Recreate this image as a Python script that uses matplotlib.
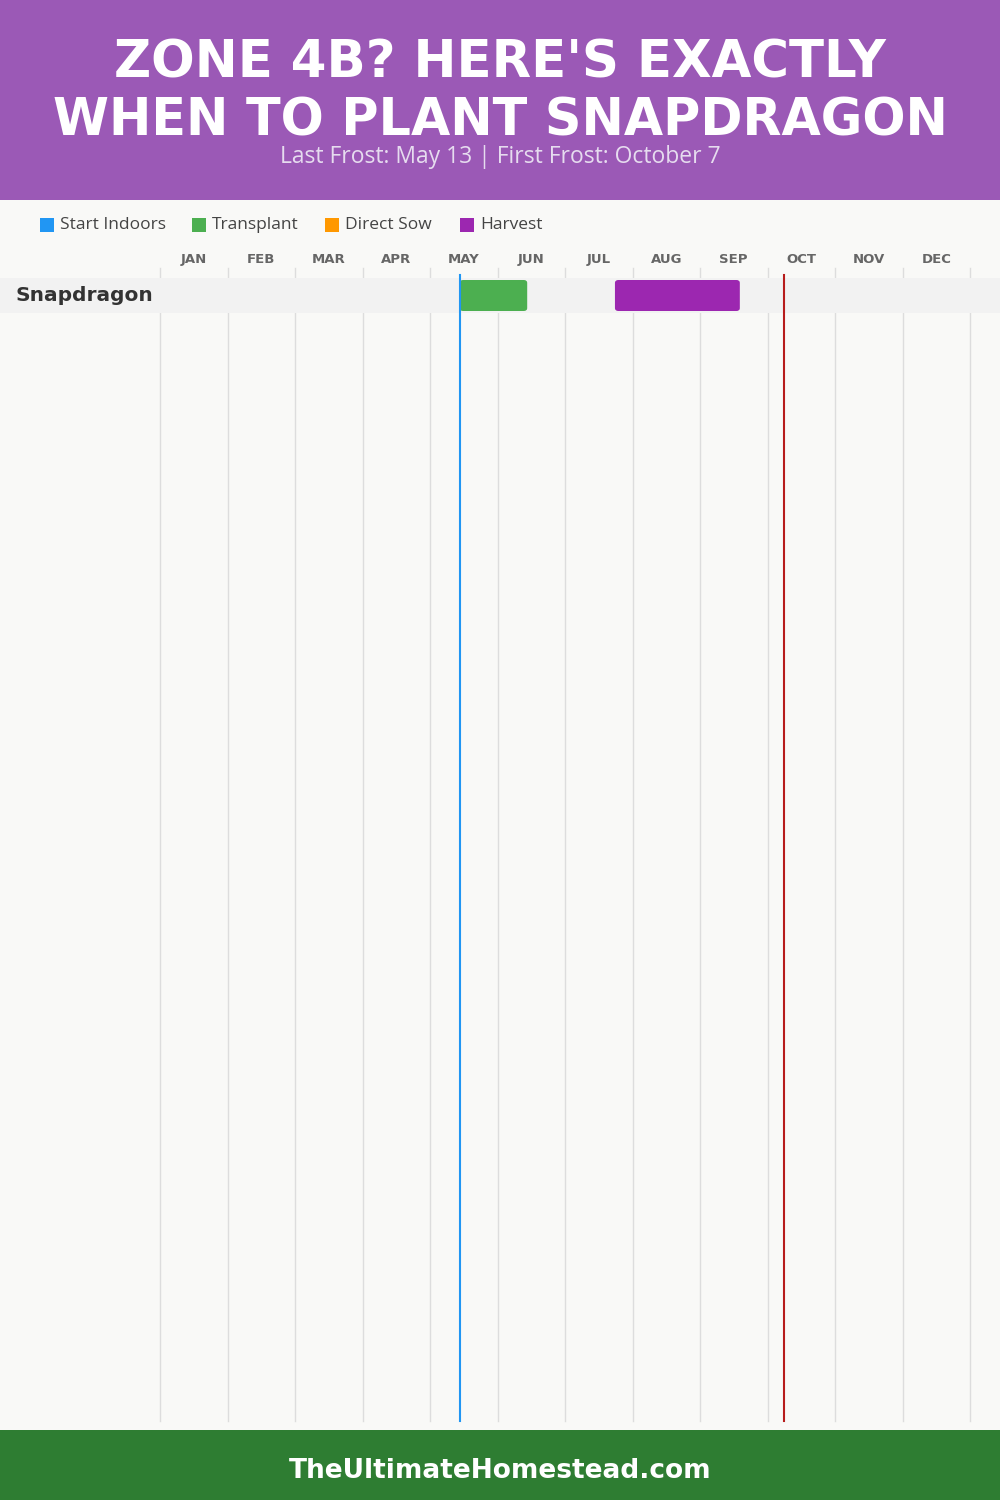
import matplotlib
matplotlib.use("Agg")
import matplotlib.pyplot as plt
from matplotlib.patches import Rectangle, FancyBboxPatch

# ---- data ----
title_lines = ["ZONE 4B? HERE'S EXACTLY", "WHEN TO PLANT SNAPDRAGON"]
subtitle = "Last Frost: May 13 | First Frost: October 7"
footer = "TheUltimateHomestead.com"
months = ["JAN", "FEB", "MAR", "APR", "MAY", "JUN", "JUL", "AUG", "SEP", "OCT", "NOV", "DEC"]
legend_labels = ["Start Indoors", "Transplant", "Direct Sow", "Harvest"]
legend_colors = ["#2196f3", "#4caf50", "#ff9800", "#9c27b0"]
crops = ["Snapdragon"]
# periods in month units (0 = Jan 1)
transplant = [(4.44, 5.44)]
harvest = [(6.74, 8.59)]
last_frost = 4.44
first_frost = 9.24

W, H = 1000, 1500
fig = plt.figure(figsize=(10, 15), dpi=100)
fig.patch.set_facecolor("#f9f9f7")

def fy(p):  # pixel-from-top to figure fraction
    return 1 - p / H

# header
fig.add_artist(Rectangle((0, fy(200)), 1, 200 / H, transform=fig.transFigure,
                         facecolor="#9b59b6", edgecolor="none", zorder=0))
fig.text(0.5, fy(63), title_lines[0], ha="center", va="center", color="white",
         fontsize=37, fontweight="heavy", family=["DejaVu Sans"])
fig.text(0.5, fy(122), title_lines[1], ha="center", va="center", color="white",
         fontsize=36.5, fontweight="heavy", family=["DejaVu Sans"])
fig.text(0.5, fy(157), subtitle, ha="center", va="center", color="#e6dcef",
         fontsize=16.5, family=["Open Sans", "DejaVu Sans"])

# footer
fig.add_artist(Rectangle((0, 0), 1, 70 / H, transform=fig.transFigure,
                         facecolor="#2e7d32", edgecolor="none", zorder=0))
fig.text(0.5, fy(1471), footer, ha="center", va="center", color="white",
         fontsize=19, fontweight="bold", family=["DejaVu Sans"])

# legend
leg_x = [40, 192, 325, 460]
for x, lab, col in zip(leg_x, legend_labels, legend_colors):
    fig.add_artist(Rectangle((x / W, fy(232)), 14 / W, 14 / H, transform=fig.transFigure,
                             facecolor=col, edgecolor="none"))
    fig.text((x + 20) / W, fy(225), lab, ha="left", va="center", color="#444444",
             fontsize=12.5, family=["Open Sans", "DejaVu Sans"])

# chart axes: x in month units, y in pixels from top
ax = fig.add_axes([0, fy(1430), 1, (1430 - 200) / H])
ax.set_facecolor("none")
px_per_month = 67.5
x0 = -160 / px_per_month
x1 = (1000 - 160) / px_per_month
ax.set_xlim(x0, x1)
ax.set_ylim(1430, 200)
ax.axis("off")

# month labels and grid
for i, m in enumerate(months):
    ax.text(i + 0.5, 259, m, ha="center", va="center", color="#666666",
            fontsize=9.5, fontweight="bold", family=["DejaVu Sans"])
for i in range(len(months) + 1):
    ax.plot([i, i], [268, 1421], color="#dddddd", lw=1, zorder=1)

row_top = 278
row_h = 35
for r, crop in enumerate(crops):
    top = row_top + r * row_h
    ax.add_patch(Rectangle((x0, top), x1 - x0, row_h, facecolor="#f2f2f2",
                           edgecolor="none", zorder=2))
    ax.text(15 / px_per_month + x0, top + row_h / 2, crop, ha="left", va="center",
            color="#333333", fontsize=14.5, fontweight="bold", family=["DejaVu Sans"], zorder=5)
    for periods, col in ((transplant, legend_colors[1]), (harvest, legend_colors[3])):
        s, e = periods[r]
        ax.add_patch(FancyBboxPatch((s, top + 2), e - s, row_h - 4,
                                    boxstyle="round,pad=0,rounding_size=0.05",
                                    mutation_aspect=60, facecolor=col,
                                    edgecolor="none", zorder=3))

ax.plot([last_frost, last_frost], [275, 1421], color="#2196f3", lw=1.5, zorder=4)
ax.plot([first_frost, first_frost], [275, 1421], color="#b71c1c", lw=1.5, zorder=4)

fig.savefig("out.png", dpi=100, facecolor=fig.get_facecolor())
